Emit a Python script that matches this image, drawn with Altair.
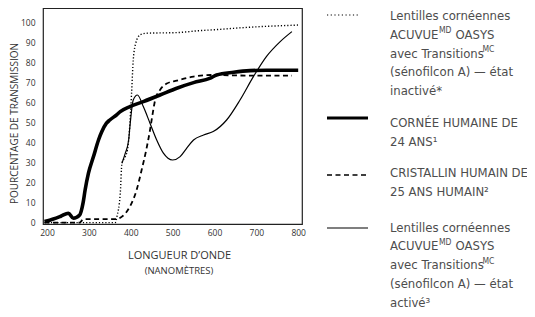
import altair as alt
import pandas as pd

# ---------------- data ----------------
x_ticks = [200, 300, 400, 500, 600, 700, 800]
y_ticks = [0, 10, 20, 30, 40, 50, 60, 70, 80, 90, 100]

# Cornée humaine de 24 ans (thick solid)
cornea_nm = [194, 215, 233, 251, 263, 278, 286, 291, 299, 311, 323, 331, 342, 350,
             367, 375, 398, 430, 470, 510, 550, 590, 605, 646, 685, 725, 800]
cornea_t = [0.5, 1.8, 3.2, 4.7, 2.2, 3.8, 9.7, 16.3, 24.7, 33.0, 41.3, 45.5, 49.7, 51.3,
            54.0, 55.5, 58.0, 60.5, 63.8, 67.2, 70.0, 72.2, 73.8, 75.2, 76.0, 76.2, 76.2]

# Lentilles ACUVUE OASYS avec Transitions – état inactivé (dotted)
inactive_nm = [194, 300, 363, 367, 375, 379, 387, 392, 397, 398, 402, 406, 412, 422,
               438, 510, 566, 590, 685, 804]
inactive_t = [0, 0, 0, 3.0, 14.7, 29.7, 33.0, 36.3, 46.3, 49.7, 64.7, 81.3, 89.7, 93.8,
              94.7, 95.0, 96.0, 96.3, 97.7, 98.8]

# Cristallin humain de 25 ans (dashed)
lens_nm = [194, 278, 287, 363, 379, 398, 414, 426, 437, 445, 452, 458, 469, 486,
           510, 550, 590, 685, 785]
lens_t = [0, 0, 1.7, 1.7, 3.0, 8.0, 16.3, 26.3, 36.3, 45.0, 54.0, 61.0, 66.0, 69.5,
          71.0, 73.0, 73.8, 73.5, 73.5]

# Lentilles ACUVUE OASYS avec Transitions – état activé (thin solid)
active_nm = [379, 387, 395, 398, 406, 416, 430, 446, 462, 478, 489, 500, 518, 533,
             550, 574, 597, 629, 661, 693, 724, 757, 785]
active_t = [29.7, 34.7, 41.3, 48.0, 61.3, 63.8, 58.0, 49.7, 41.3, 34.7, 32.2, 31.3,
            33.0, 37.0, 41.3, 43.8, 45.5, 51.3, 61.3, 73.0, 83.0, 90.5, 95.5]

legend_inactive = ["Lentilles cornéennes", "ACUVUE", "avec Transitions",
                   "(sénofilcon A) — état", "inactivé*"]
legend_cornea = ["CORNÉE HUMAINE DE", "24 ANS¹"]
legend_lens = ["CRISTALLIN HUMAIN DE", "25 ANS HUMAIN²"]
legend_active = ["Lentilles cornéennes", "ACUVUE", "avec Transitions",
                 "(sénofilcon A) — état", "activé³"]
brand_word = "OASYS"
sup_md = "MD"
sup_mc = "MC"

y_title = "POURCENTAGE DE TRANSMISSION"
x_title = "LONGUEUR D’ONDE"
x_subtitle = "(NANOMÈTRES)"

# ---------------- chart ----------------
W, H = 259, 216
AX_FONT = "Open Sans"
LEG_FONT = "DejaVu Sans Condensed"
LEG_COLOR = "#4d4d4d"
LEG_SIZE = 13
LH = 18.8

xscale = alt.Scale(domain=[190.4, 809.1], nice=False, zero=False)
yscale = alt.Scale(domain=[-0.7, 107.3], nice=False, zero=False)

xaxis = alt.Axis(values=x_ticks, grid=False, ticks=False, domain=False,
                 labelFont=AX_FONT, labelFontSize=8.5, labelColor="#333",
                 labelPadding=4, title=x_title, titleFont=AX_FONT,
                 titleFontSize=11, titleFontWeight="normal", titleColor="#333",
                 titleX=136, titleY=31, titleBaseline="middle", titleAlign="center")
yaxis = alt.Axis(values=y_ticks, grid=False, ticks=False, domain=False,
                 labelFont=AX_FONT, labelFontSize=8.5, labelColor="#333",
                 labelPadding=8, title=y_title, titleFont=AX_FONT,
                 titleFontSize=10, titleFontWeight="normal", titleColor="#333",
                 titleX=-29, titleY=115, titleBaseline="middle", titleAlign="center",
                 titleAngle=270)


def series_df(xs, ys):
    return pd.DataFrame({"nm": xs, "t": ys, "i": list(range(len(xs)))})


def line(xs, ys, **style):
    return alt.Chart(series_df(xs, ys)).mark_line(
        color="black", interpolate="monotone", **style
    ).encode(
        x=alt.X("nm:Q", scale=xscale, axis=xaxis),
        y=alt.Y("t:Q", scale=yscale, axis=yaxis),
        order="i:Q",
    )


l_lens = line(lens_nm, lens_t, strokeWidth=1.8, strokeDash=[5, 3.5])
l_inactive = line(inactive_nm, inactive_t, strokeWidth=1.4, strokeDash=[1.2, 2])
l_active = line(active_nm, active_t, strokeWidth=1.2)
l_cornea = line(cornea_nm, cornea_t, strokeWidth=3.6)

dummy = pd.DataFrame({"a": [0]})


def rule(x1, x2, y, **style):
    return alt.Chart(dummy).mark_rule(color="black", **style).encode(
        x=alt.value(x1), x2=alt.value(x2), y=alt.value(y))


def text(lines, x, y, size=LEG_SIZE, color=LEG_COLOR, font=LEG_FONT,
         align="left"):
    return alt.Chart(dummy).mark_text(
        text="\n".join(lines), align=align, baseline="middle", font=font,
        fontSize=size, color=color, lineBreak="\n", lineHeight=LH,
    ).encode(x=alt.value(x), y=alt.value(y))


TX = 347
G1, G2, G3, G4 = 8, 115, 165, 219.5

legend = [
    rule(284, 317, 7, strokeWidth=1.2, strokeDash=[1.2, 2.5]),
    rule(284, 325, 110, strokeWidth=3.2),
    rule(284, 323, 167, strokeWidth=1.4, strokeDash=[5, 3.5]),
    rule(284, 325, 220, strokeWidth=1.2),
    text(legend_inactive, TX, G1),
    text(legend_cornea, TX, G2),
    text(legend_lens, TX, G3),
    text(legend_active, TX, G4),
    # superscripts and the word after them
    text([sup_md], 396, G1 + LH - 4.5, size=8.5),
    text([brand_word], 412.5, G1 + LH),
    text([sup_mc], 439.5, G1 + 2 * LH - 4.5, size=8.5),
    text([sup_md], 396, G4 + LH - 4.5, size=8.5),
    text([brand_word], 412.5, G4 + LH),
    text([sup_mc], 439.5, G4 + 2 * LH - 4.5, size=8.5),
    text([x_subtitle], 136, 263, size=9.5, color="#333", font=AX_FONT,
         align="center"),
]

chart = alt.layer(l_lens, l_inactive, l_active, l_cornea, *legend).properties(
    width=W, height=H,
    autosize=alt.AutoSizeParams(type="none"),
    padding={"left": 35, "top": 0, "right": 225, "bottom": 85},
).configure_view(stroke="#222", strokeWidth=1.2)

chart.save("out.html", embed_options={"renderer": "svg", "actions": False})
